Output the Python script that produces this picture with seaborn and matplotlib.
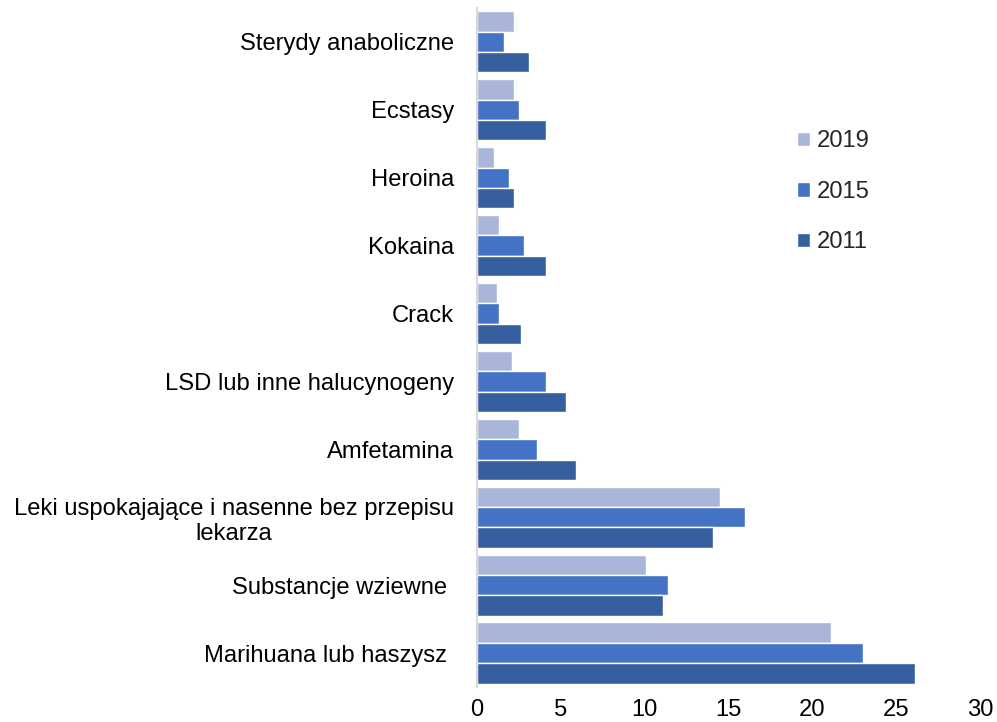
import matplotlib
matplotlib.use("Agg")
import matplotlib.pyplot as plt
import seaborn as sns
import pandas as pd

categories = [
    "Sterydy anaboliczne",
    "Ecstasy",
    "Heroina",
    "Kokaina",
    "Crack",
    "LSD lub inne halucynogeny",
    "Amfetamina",
    "Leki uspokajające i nasenne bez przepisu\nlekarza",
    "Substancje wziewne ",
    "Marihuana lub haszysz ",
]
years = ["2019", "2015", "2011"]
values_2019 = [2.2, 2.2, 1.0, 1.3, 1.2, 2.1, 2.5, 14.5, 10.1, 21.1]
values_2015 = [1.6, 2.5, 1.9, 2.8, 1.3, 4.1, 3.6, 16.0, 11.4, 23.0]
values_2011 = [3.1, 4.1, 2.2, 4.1, 2.6, 5.3, 5.9, 14.1, 11.1, 26.1]
xticks = [0, 5, 10, 15, 20, 25, 30]

colors = ["#A9B6DA", "#4472C4", "#365F9F"]

rows = []
for yr, vals in zip(years, [values_2019, values_2015, values_2011]):
    for c, v in zip(categories, vals):
        rows.append({"kategoria": c, "rok": yr, "wartosc": v})
df = pd.DataFrame(rows)

sns.set_theme(style="white")
plt.rcParams["font.family"] = ["Liberation Sans", "DejaVu Sans"]

FS = 17.15

fig = plt.figure(figsize=(9.97, 7.22), dpi=100)
ax = fig.add_axes([0.4784, 0.0485, 0.5046, 0.9405])

sns.barplot(
    data=df, y="kategoria", x="wartosc", hue="rok",
    order=categories, hue_order=years, palette=colors,
    orient="h", width=0.9, edgecolor="white", linewidth=1.0,
    saturation=1, ax=ax, legend=True,
)

ax.set_xlim(0, 30)
ax.set_xticks(xticks)
ax.set_xticklabels([str(t) for t in xticks])
ax.set_xlabel("")
ax.set_ylabel("")
ax.tick_params(axis="x", length=0, pad=8.5, labelsize=FS, colors="#000000")
ax.tick_params(axis="y", length=0, pad=16.5, labelsize=FS, colors="#000000")
for lbl in ax.get_yticklabels():
    lbl.set_multialignment("center")

for s in ["top", "right", "bottom"]:
    ax.spines[s].set_visible(False)
ax.spines["left"].set_color("#D9D9D9")
ax.spines["left"].set_linewidth(1.5)
ax.grid(False)

handles, labels = ax.get_legend_handles_labels()
ax.legend(
    handles, labels, frameon=False, loc="upper left",
    bbox_to_anchor=(0.7875, 0.836), bbox_transform=fig.transFigure,
    fontsize=FS, handlelength=0.55, handleheight=0.55,
    handletextpad=0.28, labelspacing=1.2, borderpad=0,
)

fig.savefig("out.png", dpi=100)
